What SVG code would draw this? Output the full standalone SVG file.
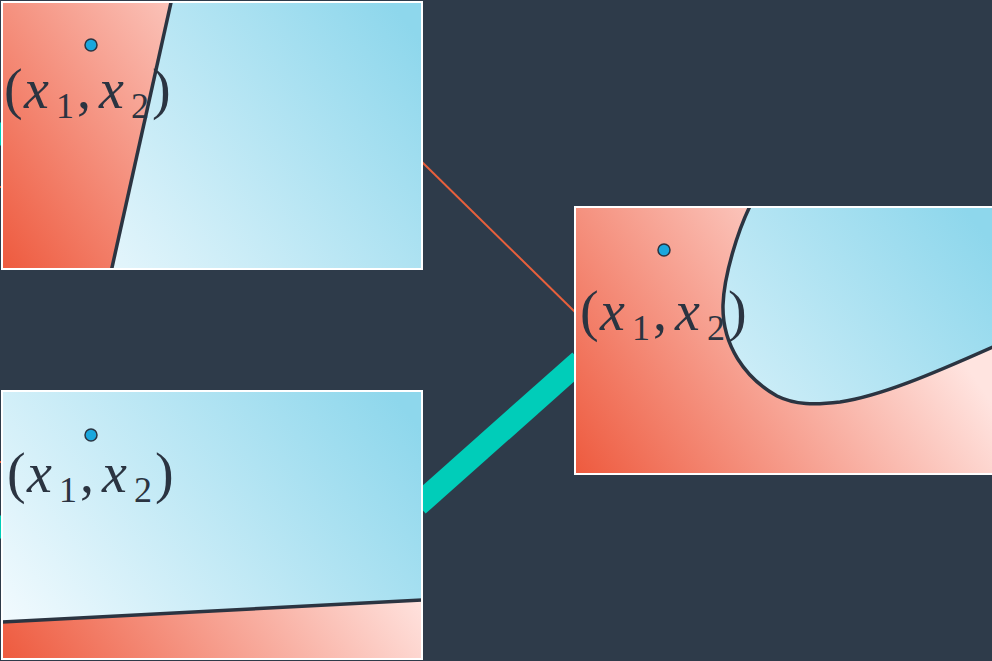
<svg xmlns="http://www.w3.org/2000/svg" width="992" height="661" viewBox="0 0 992 661">
  <defs>
    <linearGradient id="gRed" x1="0" y1="1" x2="0.93" y2="0.59">
      <stop offset="0" stop-color="#EE5A3E"/>
      <stop offset="1" stop-color="#FFE4E0"/>
    </linearGradient>
    <linearGradient id="gBlue" x1="0" y1="1" x2="1.14" y2="0.43">
      <stop offset="0" stop-color="#F7FCFF"/>
      <stop offset="1" stop-color="#8ED7EC"/>
    </linearGradient>
    <clipPath id="b1"><polygon points="171,0 424,0 424,271 112,271"/></clipPath>
    <clipPath id="b2"><polygon points="0,389 424,389 424,600 0,622"/></clipPath>
    <clipPath id="b3"><path d="M751,204 C738,230 724,275 723,305 C722,345 745,378 777,396 C795,405 815,405 840,402 C880,396 930,375 995,346 L995,204 Z"/></clipPath>
    <clipPath id="c1"><rect x="2" y="2" width="420" height="267"/></clipPath>
    <clipPath id="c2"><rect x="2" y="391" width="420" height="268"/></clipPath>
    <clipPath id="c3"><rect x="575" y="207" width="420" height="267"/></clipPath>
    <style>
      .frame{fill:none;stroke:#FFFFFF;stroke-width:2}
      .bound{fill:none;stroke:#2B3441;stroke-width:3.5;stroke-linejoin:round}
      .dot{fill:#1AA7DD;stroke:#2B3441;stroke-width:1.5}
      text{font-family:"Liberation Serif","DejaVu Serif",serif;font-size:56px;fill:#2B3441}
      .it{font-style:italic}
      .sub{font-size:36px}
    </style>
  </defs>
  <rect x="0" y="0" width="992" height="661" fill="#2E3B4A"/>

  <g id="connectors">
    <line x1="422" y1="162" x2="576" y2="313" stroke="#E8603C" stroke-width="2"/>
    <line x1="418" y1="505" x2="580" y2="361" stroke="#00CDB9" stroke-width="23"/>
    <line x1="-30" y1="134" x2="3" y2="134" stroke="#00CDB9" stroke-width="23"/>
    <line x1="-30" y1="187" x2="3" y2="187" stroke="#E8603C" stroke-width="2"/>
    <line x1="-30" y1="527" x2="3" y2="527" stroke="#00CDB9" stroke-width="23"/>
    <line x1="-30" y1="462" x2="3" y2="462" stroke="#E8603C" stroke-width="2"/>
  </g>

  <g id="panel-top">
    <g clip-path="url(#c1)">
      <rect x="2" y="2" width="420" height="267" fill="url(#gRed)"/>
      <rect x="2" y="2" width="420" height="267" fill="url(#gBlue)" clip-path="url(#b1)"/>
      <line x1="172" y1="-2" x2="111" y2="272" class="bound"/>
    </g>
    <rect x="2" y="2" width="420" height="267" class="frame"/>
    <circle cx="91" cy="45" r="6" class="dot"/>
    <text y="108"><tspan x="4">(</tspan><tspan x="24" class="it">x</tspan><tspan x="56" y="118" class="sub">1</tspan><tspan x="77" y="108">,</tspan><tspan x="99" class="it">x</tspan><tspan x="131" y="118" class="sub">2</tspan><tspan x="152" y="108">)</tspan></text>
  </g>

  <g id="panel-bottom">
    <g clip-path="url(#c2)">
      <rect x="2" y="391" width="420" height="268" fill="url(#gRed)"/>
      <rect x="2" y="391" width="420" height="268" fill="url(#gBlue)" clip-path="url(#b2)"/>
      <line x1="0" y1="622" x2="424" y2="600" class="bound"/>
    </g>
    <rect x="2" y="391" width="420" height="268" class="frame"/>
    <circle cx="91" cy="435" r="6" class="dot"/>
    <text y="492"><tspan x="7">(</tspan><tspan x="27" class="it">x</tspan><tspan x="59" y="502" class="sub">1</tspan><tspan x="80" y="492">,</tspan><tspan x="102" class="it">x</tspan><tspan x="134" y="502" class="sub">2</tspan><tspan x="155" y="492">)</tspan></text>
  </g>

  <g id="panel-right">
    <g clip-path="url(#c3)">
      <rect x="575" y="207" width="420" height="267" fill="url(#gRed)"/>
      <rect x="575" y="207" width="420" height="267" fill="url(#gBlue)" clip-path="url(#b3)"/>
      <path d="M751,204 C738,230 724,275 723,305 C722,345 745,378 777,396 C795,405 815,405 840,402 C880,396 930,375 995,346" class="bound"/>
    </g>
    <rect x="575" y="207" width="420" height="267" class="frame"/>
    <circle cx="664" cy="250" r="6" class="dot"/>
    <text y="330"><tspan x="580">(</tspan><tspan x="600" class="it">x</tspan><tspan x="632" y="340" class="sub">1</tspan><tspan x="653" y="330">,</tspan><tspan x="675" class="it">x</tspan><tspan x="707" y="340" class="sub">2</tspan><tspan x="728" y="330">)</tspan></text>
  </g>
</svg>
